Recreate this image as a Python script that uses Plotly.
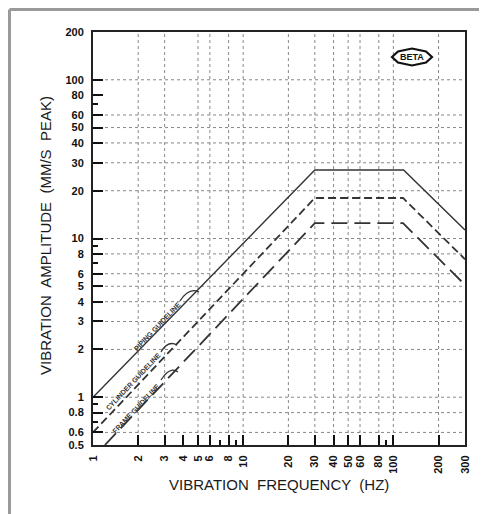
import numpy as np
import plotly.graph_objects as go

# ---- data ----
piping_freq = [1, 30, 117, 300]
piping_amp = [1.0, 27, 27, 11.3]
cylinder_freq = [1, 30, 116, 300]
cylinder_amp = [0.6, 18, 18, 7.4]
frame_freq = [1.2, 30, 116, 300]
frame_amp = [0.5, 12.5, 12.5, 5.1]

x_tickvals = [1, 2, 3, 4, 5, 6, 8, 10, 20, 30, 40, 50, 60, 80, 100, 200, 300]
x_ticktext = ["1", "2", "3", "4", "5", "6", "8", "10", "20", "30", "40", "50", "60", "80", "100", "200", "300"]
x_minor = [7, 9, 90]
x_grid = [2, 3, 5, 6, 8, 10, 20, 30, 40, 50, 60, 80, 100, 200]

y_tickvals = [0.5, 0.6, 0.8, 1, 2, 3, 4, 5, 6, 8, 10, 20, 30, 40, 50, 60, 80, 100, 200]
y_ticktext = ["0.5", "0.6", "0.8", "1", "2", "3", "4", "5", "6", "8", "10", "20", "30", "40", "50", "60", "80", "100", "200"]
y_minor = [0.7, 0.9, 7, 9, 70]
y_grid = [0.6, 0.8, 1, 2, 3, 4, 5, 6, 8, 10, 20, 30, 40, 50, 60, 100]

# page offset (browser body margin) is 8px
OFF = 8
W, H = 487 - OFF, 514 - OFF
L, R, T, B = 93 - OFF, 22, 32 - OFF, 69
PW, PH = W - L - R, H - T - B


def px(xp, yp):
    """page pixel -> paper coords"""
    xf, yf = xp - OFF, yp - OFF
    return (xf - L) / PW, (H - B - yf) / PH


fig = go.Figure()
line_col = "#333333"
fig.add_trace(go.Scatter(x=piping_freq, y=piping_amp, mode="lines",
                         line=dict(color=line_col, width=1.4), name="Piping"))
fig.add_trace(go.Scatter(x=cylinder_freq, y=cylinder_amp, mode="lines",
                         line=dict(color=line_col, width=1.8, dash="8px,4px"), name="Cylinder"))
fig.add_trace(go.Scatter(x=frame_freq, y=frame_amp, mode="lines",
                         line=dict(color=line_col, width=1.8, dash="16px,7px"), name="Frame"))

shapes = []
for v in x_grid:
    shapes.append(dict(type="line", xref="x", yref="paper", x0=v, x1=v, y0=0, y1=1,
                       line=dict(color="#888888", width=1, dash="dot"), layer="below"))
for v in y_grid:
    shapes.append(dict(type="line", xref="paper", yref="y", x0=0, x1=1, y0=v, y1=v,
                       line=dict(color="#888888", width=1, dash="dot"), layer="below"))

# outer gray frame (top & left)
a = px(9.5, 9.5)
b = px(487, 9.5)
c = px(9.5, 514)
shapes.append(dict(type="line", xref="paper", yref="paper", x0=a[0], y0=a[1], x1=b[0], y1=b[1],
                   line=dict(color="#9a9a9a", width=3)))
shapes.append(dict(type="line", xref="paper", yref="paper", x0=a[0], y0=a[1], x1=c[0], y1=c[1],
                   line=dict(color="#9a9a9a", width=3)))


def path(points, curve=False):
    pts = [px(*p) for p in points]
    if curve:
        (x0, y0), (x1, y1), (x2, y2) = pts
        return f"M {x0},{y0} Q {x1},{y1} {x2},{y2}"
    return "M " + " L ".join(f"{x},{y}" for x, y in pts) + " Z"


# hooks pointing to lines
for pts in [[(180, 301), (189, 287), (199, 292)],
            [(161, 352), (168, 340), (177, 345)],
            [(161, 380), (170, 366), (178, 372)]]:
    shapes.append(dict(type="path", xref="paper", yref="paper", path=path(pts, True),
                       line=dict(color="#333333", width=1.3)))

# BETA logo hexagon
hexa = [(392, 57), (398, 51.5), (412, 48.5), (426, 51.5), (432, 57), (426, 62.5), (412, 65.5), (398, 62.5)]
shapes.append(dict(type="path", xref="paper", yref="paper", path=path(hexa),
                   line=dict(color="#111111", width=2.2), fillcolor="white"))

annotations = []
lx, ly = px(412, 57)
annotations.append(dict(x=lx, y=ly, xref="paper", yref="paper", text="<b>BETA</b>", showarrow=False,
                        xanchor="center", yanchor="middle",
                        font=dict(family="Liberation Sans", size=9, color="#111111")))

ang = -46.6
for txt, f, amp in [("PIPING GUIDELINE", 2.67, 2.8),
                    ("CYLINDER GUIDELINE", 1.85, 1.26),
                    ("FRAME GUIDELINE", 1.93, 0.855)]:
    annotations.append(dict(x=np.log10(f), y=np.log10(amp), xref="x", yref="y", text=f"<b>{txt}</b>",
                            showarrow=False, textangle=ang, xanchor="center", yanchor="middle",
                            font=dict(family="Liberation Sans", size=7, color="#333333")))

tx, ty = px(279, 485)
annotations.append(dict(x=tx, y=ty, xref="paper", yref="paper", text="VIBRATION  FREQUENCY  (HZ)",
                        showarrow=False, xanchor="center", yanchor="middle",
                        font=dict(family="Liberation Sans", size=15, color="#1a1a1a")))
tx, ty = px(45, 236)
annotations.append(dict(x=tx, y=ty, xref="paper", yref="paper", text="VIBRATION  AMPLITUDE  (MM/S  PEAK)",
                        showarrow=False, textangle=-90, xanchor="center", yanchor="middle",
                        font=dict(family="Liberation Sans", size=15, color="#1a1a1a")))

tickfont = dict(family="Liberation Sans", size=11, color="#111111", weight="bold")
fig.update_layout(
    width=W, height=H,
    margin=dict(l=L, r=R, t=T, b=B, autoexpand=False),
    paper_bgcolor="white", plot_bgcolor="white",
    showlegend=False,
    shapes=shapes, annotations=annotations,
    xaxis=dict(type="log", range=[0, np.log10(300)], tickvals=x_tickvals, ticktext=x_ticktext,
               tickangle=-90, ticks="inside", ticklen=10, tickwidth=1.5, tickcolor="#111111",
               showgrid=False, zeroline=False, showline=True, mirror=True, linewidth=2,
               linecolor="#222222", tickfont=tickfont, ticklabelstandoff=4,
               minor=dict(tickvals=x_minor, ticks="inside", ticklen=5, tickwidth=1.5,
                          tickcolor="#111111", showgrid=False)),
    yaxis=dict(type="log", range=[np.log10(0.5), np.log10(200)], tickvals=y_tickvals, ticktext=y_ticktext,
               ticks="inside", ticklen=10, tickwidth=1.5, tickcolor="#111111",
               showgrid=False, zeroline=False, showline=True, mirror=True, linewidth=2,
               linecolor="#222222", tickfont=tickfont, ticklabelstandoff=5,
               minor=dict(tickvals=y_minor, ticks="inside", ticklen=5, tickwidth=1.5,
                          tickcolor="#111111", showgrid=False)),
)

fig.write_html("out.html")
